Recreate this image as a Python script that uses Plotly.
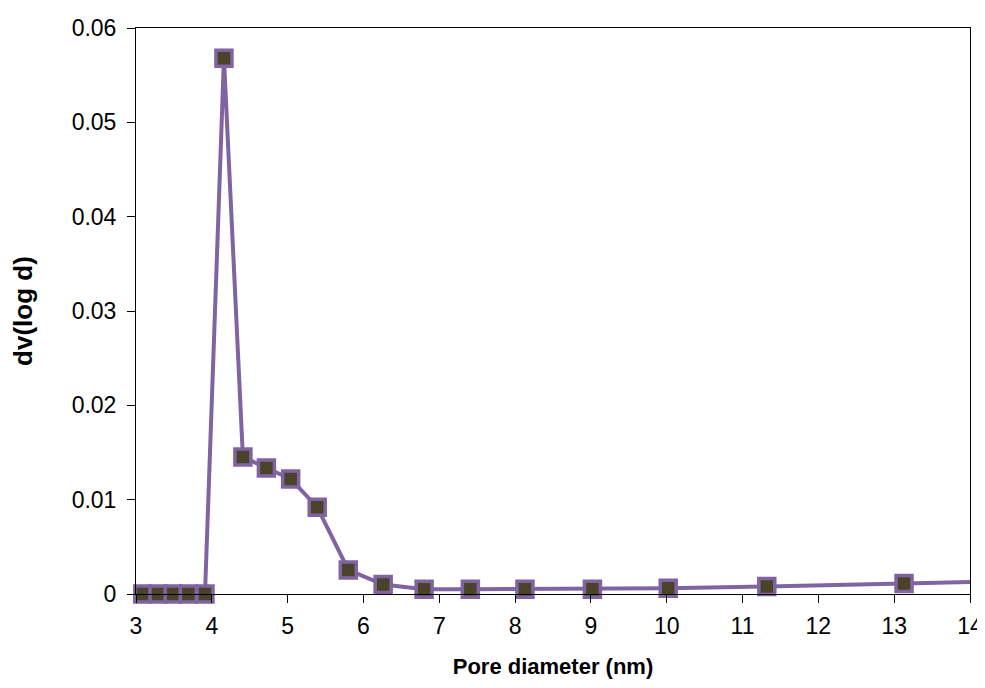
import plotly.graph_objects as go

pore_diameter = [3.09, 3.29, 3.49, 3.69, 3.91, 4.16, 4.41, 4.72, 5.04, 5.39, 5.80, 6.26, 6.80, 7.41, 8.13, 9.02, 10.02, 11.32, 13.13]
dv_logd = [0.0, 0.0, 0.0, 0.0, 0.0, 0.0568, 0.01453, 0.01336, 0.0122, 0.0092, 0.00255, 0.0010, 0.0005, 0.0005, 0.0005, 0.0005, 0.0006, 0.0008, 0.0011]
# continuation beyond the visible axis range (line runs off the right edge)
tail_x = [13.13, 15.5]
tail_y = [0.0011, 0.0016]

x_ticks = list(range(3, 15))
y_ticks = [0, 0.01, 0.02, 0.03, 0.04, 0.05, 0.06]
y_tick_text = ["0", "0.01", "0.02", "0.03", "0.04", "0.05", "0.06"]

purple = "#8064A2"
fill = "#4A4229"
family = "Liberation Sans, Arial, sans-serif"

fig = go.Figure()
fig.add_trace(go.Scatter(x=tail_x, y=tail_y, mode="lines",
                         line=dict(color=purple, width=4), showlegend=False))
fig.add_trace(go.Scatter(
    x=pore_diameter, y=dv_logd, mode="lines+markers",
    line=dict(color=purple, width=4),
    marker=dict(symbol="square", size=16, color=fill, line=dict(color=purple, width=3.5)),
    showlegend=False, cliponaxis=False))

axis_font = dict(family=family, size=23, color="black")
fig.update_layout(
    width=977, height=672,
    margin=dict(l=128, r=15, t=20, b=86, autoexpand=False),
    paper_bgcolor="white", plot_bgcolor="white",
    xaxis=dict(range=[3, 14], tickvals=x_ticks, ticks="outside", ticklen=8,
               tickcolor="black", tickwidth=1, showline=True, linecolor="black",
               linewidth=1, mirror=True, showgrid=False, zeroline=False,
               tickfont=axis_font, ticklabelstandoff=3, ticklabeloverflow="allow",
               title=dict(text="<b>Pore diameter (nm)</b>", font=dict(family=family, size=22, color="black"), standoff=21)),
    yaxis=dict(range=[0, 0.06], tickvals=y_ticks, ticktext=y_tick_text, ticks="outside",
               ticklen=8, tickcolor="black", tickwidth=1, showline=True,
               linecolor="black", linewidth=1, mirror=True, showgrid=False,
               zeroline=False, tickfont=axis_font, ticklabelstandoff=6,
               title=dict(text="<b>dv(log d)</b>", font=dict(family=family, size=26, color="black"), standoff=36)),
)
fig.write_html("out.html")
